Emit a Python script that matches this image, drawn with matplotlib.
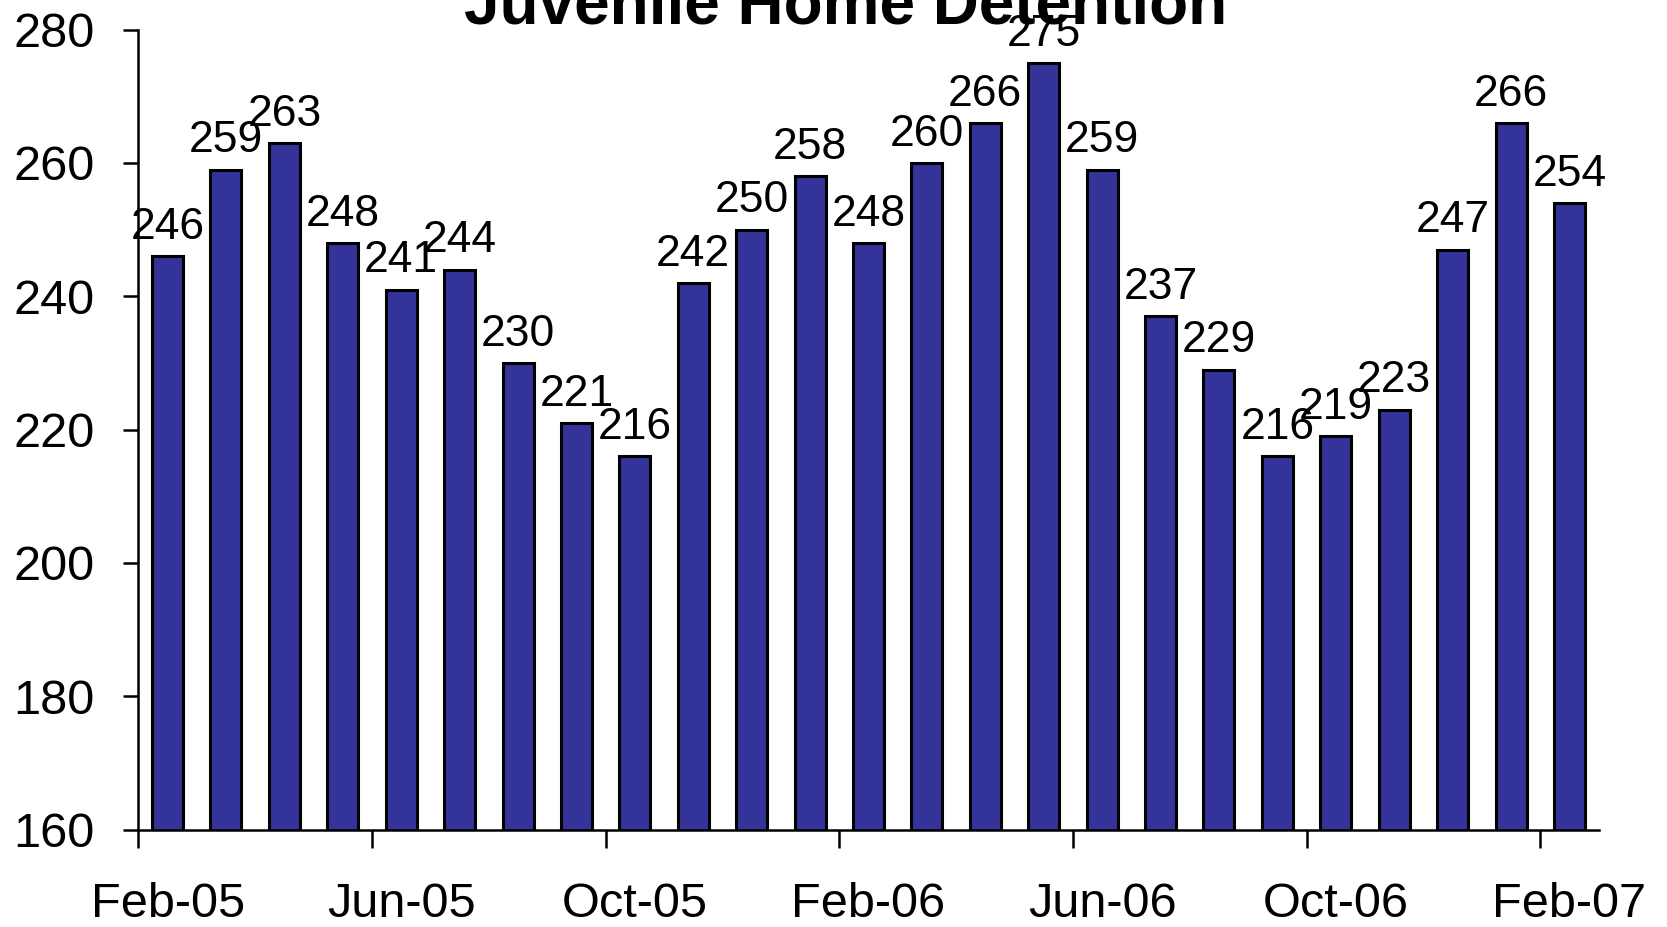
import matplotlib
matplotlib.use("Agg")
import matplotlib.pyplot as plt
import numpy as np

plt.rcParams['font.family'] = ['Liberation Sans', 'DejaVu Sans']

# Monthly counts, Feb-05 .. Feb-07
months = ["Feb-05", "Mar-05", "Apr-05", "May-05", "Jun-05", "Jul-05", "Aug-05",
          "Sep-05", "Oct-05", "Nov-05", "Dec-05", "Jan-06", "Feb-06", "Mar-06",
          "Apr-06", "May-06", "Jun-06", "Jul-06", "Aug-06", "Sep-06", "Oct-06",
          "Nov-06", "Dec-06", "Jan-07", "Feb-07"]
counts = [246, 259, 263, 248, 241, 244, 230, 221, 216, 242, 250, 258, 248,
          260, 266, 275, 259, 237, 229, 216, 219, 223, 247, 266, 254]
shown_labels = ["Feb-05", "Jun-05", "Oct-05", "Feb-06", "Jun-06", "Oct-06", "Feb-07"]
y_ticks = [160, 180, 200, 220, 240, 260, 280]

fig = plt.figure(figsize=(16.67, 9.27), dpi=100)
ax = fig.add_axes([0.083, 0.105, 0.876, 0.863])

x = np.arange(len(months))
ax.bar(x, counts, width=0.53, bottom=0, color="#333399",
       edgecolor="black", linewidth=2.2, zorder=2)

for xi, v in zip(x, counts):
    ax.annotate(str(v), (xi, v), xytext=(0, 6), textcoords="offset points",
                ha="center", va="bottom", fontsize=32)

ax.set_ylim(160, 280)
ax.set_xlim(-0.5, len(months) - 0.5)
ax.set_yticks(y_ticks)
ax.tick_params(axis="y", labelsize=35, direction="out", length=10.5,
               width=1.8, pad=21)

# tick marks at category boundaries, labels at category centres
label_pos = [months.index(m) for m in shown_labels]
ax.set_xticks([p - 0.5 for p in label_pos])
ax.set_xticklabels([])
ax.set_xticks(label_pos, minor=True)
ax.set_xticklabels(shown_labels, minor=True)
ax.tick_params(axis="x", which="major", direction="out", length=13, width=1.8)
ax.tick_params(axis="x", which="minor", length=0, labelsize=35, pad=38)

for s in ["top", "right"]:
    ax.spines[s].set_visible(False)
for s in ["left", "bottom"]:
    ax.spines[s].set_linewidth(1.8)

fig.text(0.507, 1 - 23 / 927, "Juvenile Home Detention", ha="center",
         va="baseline", fontsize=46, fontweight="bold")

fig.savefig("out.png", dpi=100)
